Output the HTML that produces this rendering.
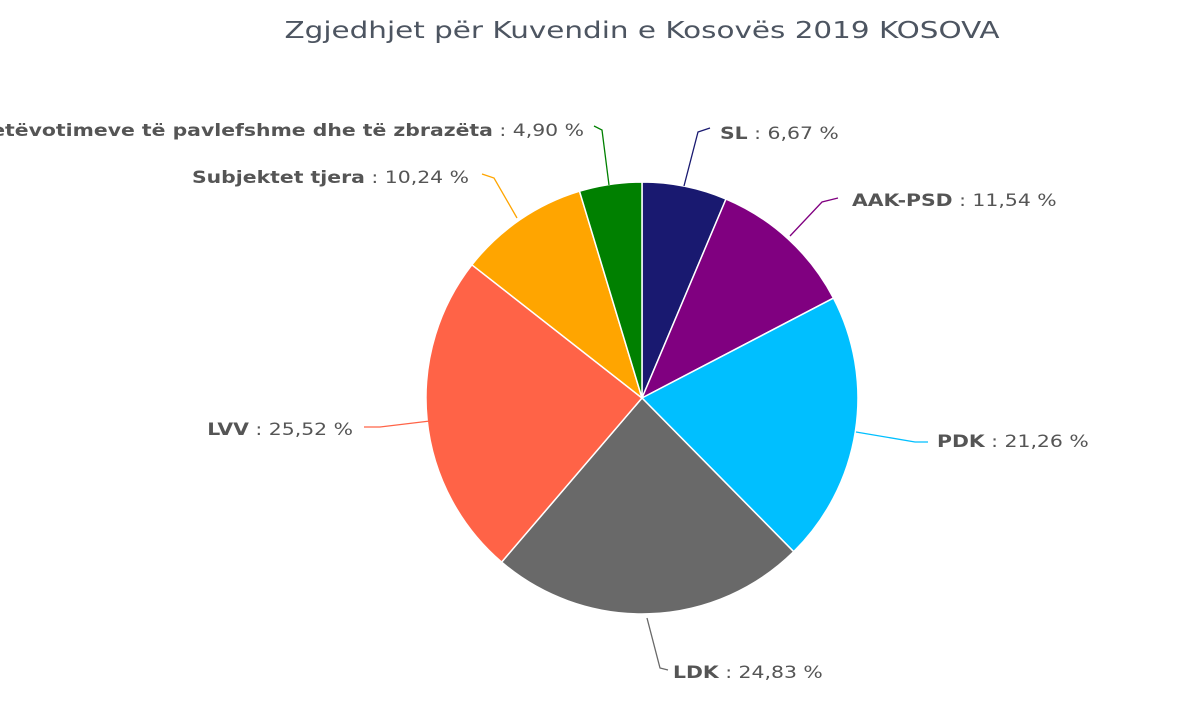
<!DOCTYPE html>
<html><head><meta charset="utf-8"><style>
html,body{margin:0;padding:0;background:#fff;}
svg{display:block;}
text{font-family:"DejaVu Sans","Liberation Sans",sans-serif;font-size:17px;fill:#555;}
.b{font-weight:bold;}
</style></head><body>
<svg width="1200" height="707" viewBox="0 0 1200 707">
<text transform="translate(642,38) scale(1.28,1)" text-anchor="middle" style="font-size:23px;fill:#4d5561">Zgjedhjet për Kuvendin e Kosovës 2019 KOSOVA</text>
<g stroke="#fff" stroke-width="1.5" stroke-linejoin="round">
<path d="M642,398 L642,182 A216,216 0 0 1 726,199 Z" fill="#191970"/>
<path d="M642,398 L726,199 A216,216 0 0 1 833.5,298.1 Z" fill="#800080"/>
<path d="M642,398 L833.5,298.1 A216,216 0 0 1 793.7,551.7 Z" fill="#00bfff"/>
<path d="M642,398 L793.7,551.7 A216,216 0 0 1 501.6,562.1 Z" fill="#696969"/>
<path d="M642,398 L501.6,562.1 A216,216 0 0 1 471.9,264.8 Z" fill="#ff6347"/>
<path d="M642,398 L471.9,264.8 A216,216 0 0 1 579.5,191.2 Z" fill="#ffa500"/>
<path d="M642,398 L579.5,191.2 A216,216 0 0 1 642,182 Z" fill="#008000"/>
</g>
<g fill="none" stroke-width="1.3">
<path d="M684,186 L698,132 L710,128" stroke="#191970"/>
<path d="M790,236 L822,202 L838,198" stroke="#800080"/>
<path d="M856,432 L915,442 L928,442" stroke="#00bfff"/>
<path d="M647,618 L660,668 L668,670" stroke="#696969"/>
<path d="M430,421 L380,427 L364,427" stroke="#ff6347"/>
<path d="M517,218 L494,178 L482,174" stroke="#ffa500"/>
<path d="M609,185 L602,130 L594,126" stroke="#008000"/>
</g>
<text transform="translate(720,139) scale(1.2,1)"><tspan class="b">SL</tspan> : 6,67 %</text>
<text transform="translate(852,206) scale(1.2,1)"><tspan class="b">AAK-PSD</tspan> : 11,54 %</text>
<text transform="translate(937,447) scale(1.2,1)"><tspan class="b">PDK</tspan> : 21,26 %</text>
<text transform="translate(673,678) scale(1.2,1)"><tspan class="b">LDK</tspan> : 24,83 %</text>
<text transform="translate(353,435) scale(1.2,1)" text-anchor="end"><tspan class="b">LVV</tspan> : 25,52 %</text>
<text transform="translate(469,183) scale(1.2,1)" text-anchor="end"><tspan class="b">Subjektet tjera</tspan> : 10,24 %</text>
<text transform="translate(584,136) scale(1.2,1)" text-anchor="end"><tspan class="b">Fletëvotimeve të pavlefshme dhe të zbrazëta</tspan> : 4,90 %</text>
</svg>
</body></html>
